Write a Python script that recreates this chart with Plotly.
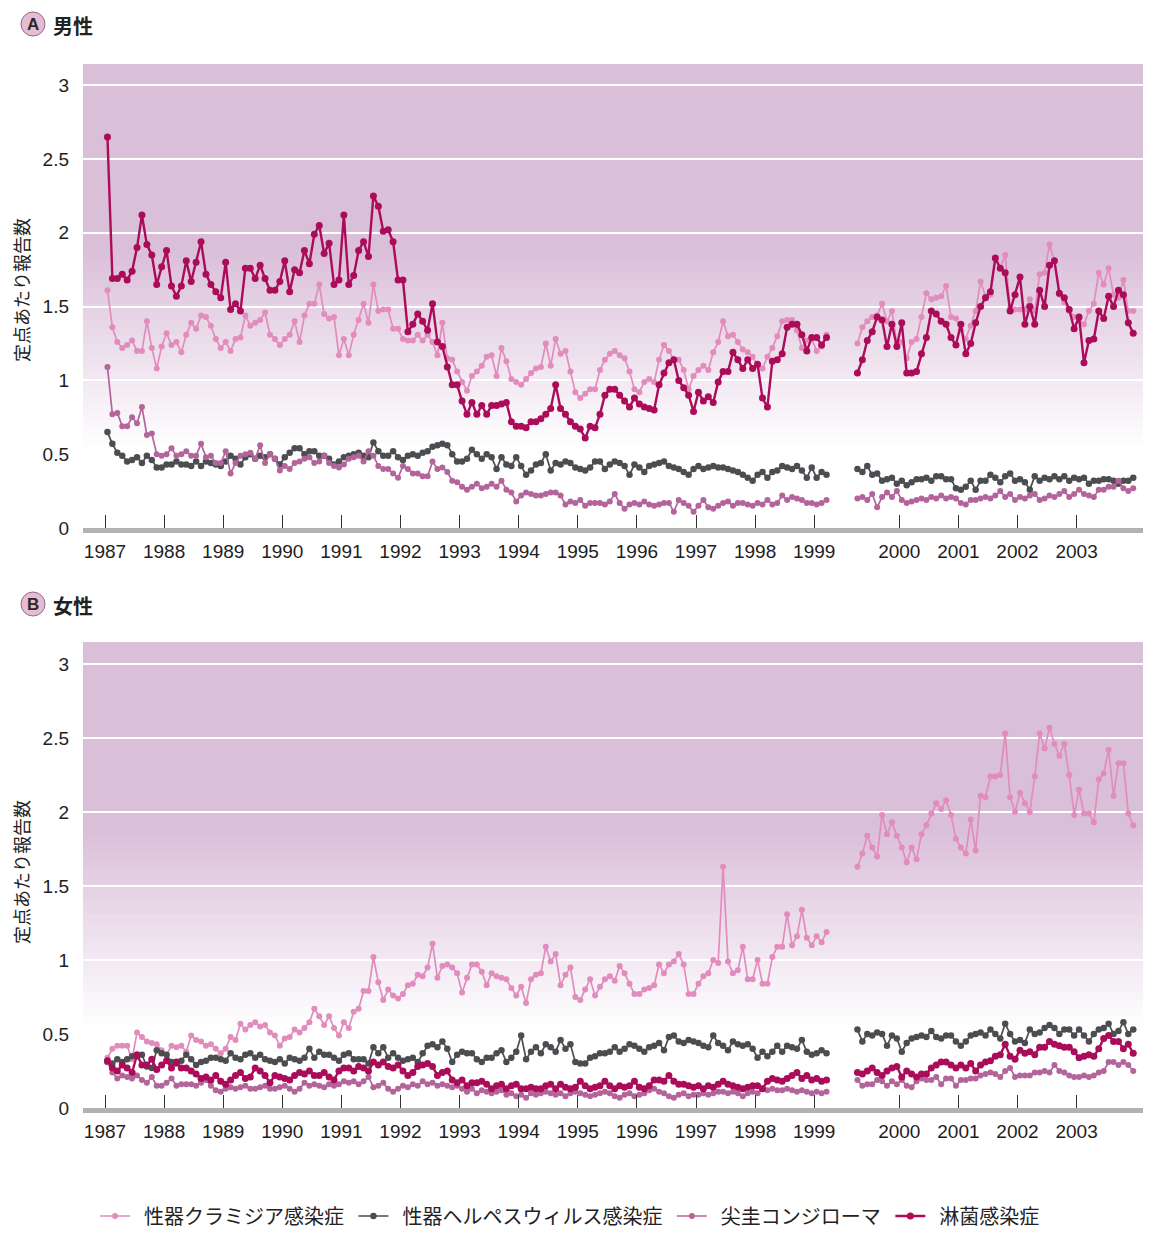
import plotly.graph_objects as go

# ---------------- DATA (monthly reports per sentinel site) ----------------
# pre-break: Jan 1987 .. Mar 1999 (147 months); post-break: Apr 1999 .. Dec 2003 (57 months)
series_names = ["性器クラミジア感染症", "性器ヘルペスウィルス感染症", "尖圭コンジローマ", "淋菌感染症"]
years_pre = list(range(1987, 2000))
years_post = [2000, 2001, 2002, 2003]

# ---- Panel A: male ----
male_chlamydia_pre = [
    1.61, 1.36, 1.26, 1.22, 1.24, 1.27, 1.20, 1.20, 1.40, 1.22, 1.08, 1.23,
    1.32, 1.24, 1.26, 1.19, 1.31, 1.39, 1.35, 1.44, 1.43, 1.37, 1.28, 1.22,
    1.26, 1.20, 1.28, 1.29, 1.44, 1.37, 1.39, 1.41, 1.46, 1.31, 1.28, 1.24,
    1.28, 1.31, 1.40, 1.26, 1.44, 1.52, 1.52, 1.65, 1.45, 1.42, 1.43, 1.17,
    1.28, 1.17, 1.31, 1.41, 1.52, 1.39, 1.65, 1.47, 1.48, 1.48, 1.35, 1.35,
    1.28, 1.27, 1.27, 1.31, 1.27, 1.31, 1.26, 1.17, 1.39, 1.15, 1.14, 1.06,
    0.99, 0.93, 1.03, 1.06, 1.10, 1.16, 1.17, 1.03, 1.22, 1.13, 1.01, 0.99,
    0.97, 1.01, 1.05, 1.08, 1.09, 1.25, 1.10, 1.28, 1.18, 1.20, 1.06, 0.92,
    0.88, 0.91, 0.94, 0.94, 1.07, 1.14, 1.18, 1.20, 1.17, 1.15, 1.06, 0.94,
    0.92, 0.99, 1.01, 0.99, 1.14, 1.24, 1.20, 1.14, 1.14, 1.07, 0.94, 1.03,
    1.07, 1.10, 1.07, 1.19, 1.26, 1.40, 1.30, 1.31, 1.26, 1.21, 1.19, 1.16,
    1.10, 1.08, 1.16, 1.22, 1.30, 1.40, 1.41, 1.41, 1.34, 1.22, 1.27, 1.28,
    1.20, 1.23, 1.31]
male_chlamydia_post = [
    1.25, 1.36, 1.40, 1.43, 1.44, 1.52, 1.40, 1.47, 1.25,
    1.26, 1.15, 1.26, 1.28, 1.43, 1.59, 1.55, 1.56, 1.57, 1.64, 1.43, 1.42,
    1.34, 1.28, 1.37, 1.47, 1.67, 1.57, 1.58, 1.82, 1.76, 1.85, 1.49, 1.48,
    1.48, 1.48, 1.55, 1.47, 1.72, 1.73, 1.92, 1.81, 1.58, 1.53, 1.47, 1.43,
    1.40, 1.38, 1.47, 1.52, 1.73, 1.65, 1.76, 1.58, 1.56, 1.68, 1.47, 1.47]

male_herpes_pre = [
    0.65, 0.57, 0.51, 0.49, 0.45, 0.46, 0.48, 0.44, 0.49, 0.46, 0.41, 0.41,
    0.43, 0.43, 0.45, 0.43, 0.43, 0.42, 0.45, 0.42, 0.45, 0.44, 0.43, 0.42,
    0.45, 0.49, 0.47, 0.43, 0.48, 0.50, 0.47, 0.49, 0.48, 0.50, 0.47, 0.43,
    0.48, 0.51, 0.54, 0.54, 0.50, 0.52, 0.52, 0.49, 0.49, 0.47, 0.43, 0.45,
    0.48, 0.49, 0.50, 0.51, 0.49, 0.48, 0.58, 0.52, 0.49, 0.49, 0.52, 0.48,
    0.46, 0.49, 0.50, 0.49, 0.51, 0.52, 0.55, 0.56, 0.57, 0.56, 0.50, 0.45,
    0.45, 0.47, 0.53, 0.50, 0.47, 0.50, 0.48, 0.40, 0.48, 0.43, 0.42, 0.48,
    0.42, 0.36, 0.39, 0.43, 0.44, 0.50, 0.39, 0.44, 0.43, 0.45, 0.44, 0.41,
    0.40, 0.39, 0.41, 0.45, 0.45, 0.40, 0.43, 0.45, 0.44, 0.42, 0.36, 0.43,
    0.41, 0.38, 0.42, 0.43, 0.44, 0.45, 0.42, 0.41, 0.40, 0.38, 0.36, 0.40,
    0.42, 0.40, 0.41, 0.42, 0.41, 0.41, 0.40, 0.39, 0.38, 0.36, 0.34, 0.32,
    0.36, 0.38, 0.34, 0.38, 0.39, 0.42, 0.41, 0.40, 0.42, 0.39, 0.34, 0.41,
    0.34, 0.38, 0.36]
male_herpes_post = [
    0.40, 0.38, 0.42, 0.36, 0.37, 0.32, 0.33, 0.34, 0.30,
    0.32, 0.29, 0.31, 0.33, 0.33, 0.34, 0.32, 0.35, 0.35, 0.33, 0.33, 0.27,
    0.26, 0.28, 0.32, 0.26, 0.32, 0.32, 0.36, 0.34, 0.31, 0.35, 0.37, 0.32,
    0.33, 0.31, 0.26, 0.35, 0.32, 0.34, 0.33, 0.35, 0.33, 0.35, 0.32, 0.34,
    0.33, 0.34, 0.30, 0.32, 0.32, 0.33, 0.33, 0.32, 0.30, 0.32, 0.32, 0.34]

male_condyloma_pre = [
    1.09, 0.77, 0.78, 0.69, 0.69, 0.75, 0.71, 0.82, 0.63, 0.64, 0.50, 0.49,
    0.50, 0.54, 0.49, 0.50, 0.52, 0.49, 0.49, 0.57, 0.48, 0.49, 0.44, 0.44,
    0.52, 0.37, 0.44, 0.49, 0.50, 0.51, 0.47, 0.56, 0.44, 0.50, 0.47, 0.39,
    0.42, 0.40, 0.44, 0.45, 0.47, 0.48, 0.44, 0.45, 0.49, 0.44, 0.42, 0.41,
    0.43, 0.47, 0.48, 0.49, 0.45, 0.52, 0.49, 0.42, 0.40, 0.40, 0.37, 0.34,
    0.42, 0.40, 0.37, 0.37, 0.35, 0.35, 0.45, 0.40, 0.41, 0.38, 0.32, 0.31,
    0.28, 0.26, 0.28, 0.30, 0.27, 0.28, 0.30, 0.28, 0.32, 0.26, 0.24, 0.18,
    0.22, 0.24, 0.23, 0.22, 0.22, 0.23, 0.24, 0.24, 0.22, 0.16, 0.18, 0.17,
    0.19, 0.15, 0.17, 0.17, 0.17, 0.16, 0.18, 0.23, 0.17, 0.13, 0.16, 0.17,
    0.16, 0.18, 0.16, 0.15, 0.16, 0.17, 0.17, 0.11, 0.19, 0.17, 0.15, 0.11,
    0.15, 0.19, 0.14, 0.13, 0.15, 0.17, 0.18, 0.15, 0.17, 0.17, 0.16, 0.15,
    0.17, 0.16, 0.19, 0.16, 0.17, 0.22, 0.19, 0.21, 0.20, 0.19, 0.17, 0.17,
    0.16, 0.17, 0.19]
male_condyloma_post = [
    0.20, 0.21, 0.19, 0.23, 0.14, 0.21, 0.24, 0.21, 0.25,
    0.19, 0.17, 0.18, 0.19, 0.20, 0.19, 0.21, 0.20, 0.22, 0.20, 0.21, 0.20,
    0.17, 0.16, 0.19, 0.19, 0.20, 0.21, 0.20, 0.22, 0.25, 0.21, 0.23, 0.19,
    0.21, 0.20, 0.22, 0.23, 0.19, 0.20, 0.22, 0.21, 0.23, 0.25, 0.21, 0.23,
    0.26, 0.23, 0.22, 0.21, 0.26, 0.26, 0.28, 0.28, 0.32, 0.27, 0.25, 0.27]

male_gonorrhea_pre = [
    2.65, 1.69, 1.69, 1.72, 1.68, 1.74, 1.90, 2.12, 1.92, 1.85, 1.65, 1.77,
    1.88, 1.64, 1.57, 1.64, 1.81, 1.67, 1.80, 1.94, 1.72, 1.65, 1.60, 1.56,
    1.80, 1.48, 1.52, 1.47, 1.76, 1.76, 1.69, 1.78, 1.69, 1.61, 1.61, 1.67,
    1.81, 1.60, 1.75, 1.73, 1.88, 1.79, 1.99, 2.05, 1.86, 1.93, 1.65, 1.68,
    2.12, 1.65, 1.71, 1.88, 1.94, 1.84, 2.25, 2.18, 2.01, 2.02, 1.94, 1.68,
    1.68, 1.33, 1.38, 1.45, 1.40, 1.34, 1.52, 1.26, 1.23, 1.09, 0.97, 0.97,
    0.86, 0.77, 0.85, 0.77, 0.83, 0.77, 0.83, 0.83, 0.84, 0.85, 0.72, 0.69,
    0.69, 0.68, 0.72, 0.72, 0.74, 0.77, 0.81, 0.97, 0.81, 0.77, 0.72, 0.69,
    0.67, 0.61, 0.69, 0.68, 0.77, 0.90, 0.94, 0.94, 0.90, 0.86, 0.82, 0.88,
    0.84, 0.82, 0.81, 0.80, 0.97, 1.05, 1.12, 1.14, 1.00, 0.95, 0.90, 0.79,
    0.92, 0.86, 0.89, 0.85, 0.99, 1.06, 1.06, 1.19, 1.14, 1.08, 1.14, 1.08,
    1.11, 0.88, 0.82, 1.13, 1.14, 1.18, 1.36, 1.38, 1.38, 1.31, 1.20, 1.29,
    1.29, 1.24, 1.29]
male_gonorrhea_post = [
    1.05, 1.14, 1.27, 1.33, 1.43, 1.41, 1.23, 1.38, 1.23,
    1.39, 1.05, 1.05, 1.06, 1.18, 1.29, 1.47, 1.45, 1.40, 1.38, 1.29, 1.24,
    1.38, 1.18, 1.25, 1.39, 1.50, 1.56, 1.60, 1.83, 1.76, 1.73, 1.47, 1.58,
    1.70, 1.38, 1.50, 1.38, 1.61, 1.50, 1.78, 1.81, 1.59, 1.56, 1.48, 1.35,
    1.43, 1.12, 1.27, 1.28, 1.47, 1.42, 1.57, 1.50, 1.61, 1.58, 1.39, 1.32]

# ---- Panel B: female ----
female_chlamydia_pre = [
    0.34, 0.40, 0.42, 0.42, 0.42, 0.33, 0.51, 0.48, 0.45, 0.44, 0.43, 0.39,
    0.36, 0.42, 0.41, 0.42, 0.38, 0.49, 0.46, 0.45, 0.42, 0.43, 0.40, 0.37,
    0.40, 0.48, 0.46, 0.57, 0.53, 0.56, 0.58, 0.55, 0.56, 0.51, 0.49, 0.42,
    0.47, 0.48, 0.53, 0.51, 0.54, 0.58, 0.67, 0.62, 0.56, 0.62, 0.54, 0.49,
    0.58, 0.54, 0.65, 0.67, 0.79, 0.79, 1.02, 0.85, 0.73, 0.80, 0.76, 0.74,
    0.77, 0.83, 0.84, 0.90, 0.89, 0.95, 1.11, 0.88, 0.96, 0.97, 0.95, 0.91,
    0.78, 0.88, 0.97, 0.97, 0.92, 0.83, 0.91, 0.89, 0.88, 0.87, 0.81, 0.76,
    0.82, 0.71, 0.87, 0.90, 0.91, 1.09, 0.99, 1.04, 0.83, 0.90, 0.95, 0.75,
    0.73, 0.80, 0.87, 0.76, 0.82, 0.87, 0.89, 0.86, 0.96, 0.91, 0.84, 0.77,
    0.77, 0.80, 0.81, 0.83, 0.97, 0.91, 0.97, 0.99, 1.04, 0.97, 0.77, 0.77,
    0.84, 0.89, 0.91, 1.00, 0.98, 1.63, 0.99, 0.91, 0.93, 1.09, 0.87, 0.87,
    1.00, 0.84, 0.84, 1.02, 1.09, 1.09, 1.31, 1.10, 1.16, 1.34, 1.15, 1.10,
    1.16, 1.12, 1.19]
female_chlamydia_post = [
    1.63, 1.72, 1.84, 1.76, 1.70, 1.98, 1.85, 1.93, 1.84,
    1.76, 1.66, 1.76, 1.68, 1.85, 1.91, 1.99, 2.06, 2.02, 2.08, 1.98, 1.82,
    1.76, 1.72, 1.95, 1.74, 2.11, 2.10, 2.24, 2.24, 2.25, 2.53, 2.10, 2.00,
    2.13, 2.06, 2.00, 2.24, 2.53, 2.43, 2.57, 2.46, 2.38, 2.46, 2.25, 1.98,
    2.15, 1.99, 1.99, 1.93, 2.22, 2.26, 2.42, 2.11, 2.33, 2.33, 1.99, 1.91]

female_herpes_pre = [
    0.31, 0.30, 0.33, 0.31, 0.33, 0.35, 0.35, 0.36, 0.28, 0.27, 0.39, 0.37,
    0.36, 0.31, 0.30, 0.32, 0.36, 0.33, 0.29, 0.31, 0.32, 0.34, 0.34, 0.33,
    0.32, 0.37, 0.34, 0.33, 0.36, 0.37, 0.34, 0.36, 0.33, 0.32, 0.31, 0.33,
    0.30, 0.34, 0.33, 0.32, 0.34, 0.40, 0.34, 0.38, 0.36, 0.36, 0.34, 0.32,
    0.36, 0.37, 0.33, 0.33, 0.33, 0.30, 0.41, 0.37, 0.41, 0.34, 0.37, 0.34,
    0.32, 0.33, 0.34, 0.31, 0.37, 0.42, 0.43, 0.41, 0.45, 0.40, 0.31, 0.36,
    0.38, 0.37, 0.37, 0.33, 0.31, 0.34, 0.34, 0.37, 0.39, 0.31, 0.34, 0.38,
    0.49, 0.33, 0.38, 0.41, 0.37, 0.43, 0.41, 0.38, 0.46, 0.40, 0.43, 0.31,
    0.30, 0.30, 0.34, 0.35, 0.37, 0.37, 0.38, 0.41, 0.38, 0.40, 0.43, 0.42,
    0.40, 0.38, 0.41, 0.42, 0.44, 0.39, 0.48, 0.49, 0.45, 0.44, 0.46, 0.45,
    0.44, 0.42, 0.41, 0.49, 0.44, 0.42, 0.39, 0.45, 0.43, 0.42, 0.43, 0.40,
    0.34, 0.38, 0.35, 0.38, 0.42, 0.38, 0.42, 0.41, 0.40, 0.46, 0.38, 0.36,
    0.37, 0.39, 0.37]
female_herpes_post = [
    0.53, 0.45, 0.50, 0.49, 0.51, 0.50, 0.42, 0.49, 0.47,
    0.38, 0.44, 0.47, 0.48, 0.49, 0.48, 0.52, 0.48, 0.47, 0.49, 0.49, 0.45,
    0.42, 0.45, 0.49, 0.50, 0.51, 0.49, 0.53, 0.50, 0.47, 0.57, 0.50, 0.45,
    0.46, 0.44, 0.53, 0.50, 0.51, 0.54, 0.56, 0.54, 0.50, 0.53, 0.53, 0.49,
    0.53, 0.49, 0.45, 0.50, 0.53, 0.54, 0.57, 0.50, 0.52, 0.58, 0.50, 0.53]

female_condyloma_pre = [
    0.31, 0.24, 0.20, 0.22, 0.21, 0.20, 0.22, 0.19, 0.17, 0.21, 0.15, 0.15,
    0.17, 0.20, 0.15, 0.16, 0.16, 0.16, 0.15, 0.17, 0.19, 0.15, 0.12, 0.11,
    0.13, 0.14, 0.13, 0.14, 0.15, 0.13, 0.13, 0.14, 0.15, 0.13, 0.13, 0.14,
    0.15, 0.13, 0.11, 0.13, 0.17, 0.15, 0.16, 0.15, 0.14, 0.16, 0.15, 0.16,
    0.18, 0.17, 0.18, 0.16, 0.18, 0.21, 0.14, 0.15, 0.17, 0.13, 0.11, 0.13,
    0.15, 0.14, 0.16, 0.15, 0.18, 0.16, 0.17, 0.15, 0.16, 0.15, 0.14, 0.15,
    0.13, 0.11, 0.13, 0.10, 0.12, 0.11, 0.10, 0.11, 0.12, 0.09, 0.10, 0.08,
    0.09, 0.07, 0.10, 0.09, 0.10, 0.11, 0.10, 0.09, 0.10, 0.08, 0.10, 0.11,
    0.10, 0.09, 0.08, 0.09, 0.10, 0.11, 0.10, 0.08, 0.07, 0.09, 0.10, 0.08,
    0.09, 0.10, 0.12, 0.13, 0.11, 0.10, 0.08, 0.07, 0.09, 0.10, 0.08, 0.09,
    0.09, 0.10, 0.09, 0.10, 0.11, 0.11, 0.10, 0.11, 0.10, 0.08, 0.10, 0.11,
    0.10, 0.13, 0.12, 0.13, 0.12, 0.12, 0.13, 0.12, 0.11, 0.12, 0.11, 0.10,
    0.11, 0.10, 0.11]
female_condyloma_post = [
    0.19, 0.15, 0.16, 0.16, 0.19, 0.18, 0.15, 0.18, 0.16,
    0.19, 0.15, 0.14, 0.18, 0.20, 0.19, 0.19, 0.21, 0.16, 0.20, 0.20, 0.15,
    0.19, 0.19, 0.20, 0.20, 0.22, 0.23, 0.24, 0.23, 0.21, 0.25, 0.27, 0.21,
    0.22, 0.22, 0.22, 0.24, 0.24, 0.25, 0.24, 0.29, 0.25, 0.24, 0.22, 0.21,
    0.21, 0.22, 0.21, 0.22, 0.24, 0.25, 0.31, 0.31, 0.29, 0.31, 0.29, 0.25]

female_gonorrhea_pre = [
    0.32, 0.27, 0.25, 0.29, 0.27, 0.24, 0.36, 0.29, 0.29, 0.33, 0.26, 0.29,
    0.32, 0.27, 0.31, 0.27, 0.27, 0.25, 0.23, 0.20, 0.21, 0.19, 0.22, 0.18,
    0.16, 0.19, 0.22, 0.24, 0.20, 0.21, 0.27, 0.25, 0.22, 0.17, 0.22, 0.21,
    0.20, 0.19, 0.22, 0.24, 0.23, 0.25, 0.22, 0.22, 0.24, 0.21, 0.19, 0.25,
    0.27, 0.27, 0.25, 0.28, 0.27, 0.25, 0.31, 0.29, 0.31, 0.28, 0.27, 0.29,
    0.25, 0.22, 0.24, 0.28, 0.29, 0.30, 0.28, 0.22, 0.24, 0.25, 0.19, 0.17,
    0.19, 0.15, 0.17, 0.17, 0.18, 0.16, 0.13, 0.15, 0.16, 0.13, 0.15, 0.16,
    0.13, 0.13, 0.14, 0.13, 0.13, 0.15, 0.16, 0.13, 0.16, 0.14, 0.13, 0.14,
    0.18, 0.15, 0.13, 0.14, 0.15, 0.18, 0.15, 0.13, 0.15, 0.14, 0.15, 0.18,
    0.14, 0.13, 0.15, 0.19, 0.19, 0.18, 0.22, 0.18, 0.16, 0.16, 0.15, 0.14,
    0.15, 0.13, 0.15, 0.14, 0.16, 0.18, 0.16, 0.15, 0.14, 0.13, 0.14, 0.15,
    0.15, 0.13, 0.18, 0.20, 0.19, 0.18, 0.20, 0.22, 0.24, 0.20, 0.22, 0.19,
    0.20, 0.18, 0.19]
female_gonorrhea_post = [
    0.24, 0.23, 0.25, 0.27, 0.24, 0.22, 0.25, 0.27, 0.28,
    0.21, 0.25, 0.23, 0.21, 0.23, 0.23, 0.27, 0.29, 0.31, 0.31, 0.29, 0.27,
    0.29, 0.27, 0.30, 0.25, 0.29, 0.31, 0.32, 0.35, 0.36, 0.43, 0.35, 0.33,
    0.39, 0.37, 0.38, 0.36, 0.41, 0.41, 0.45, 0.43, 0.42, 0.41, 0.41, 0.38,
    0.34, 0.35, 0.36, 0.35, 0.40, 0.47, 0.49, 0.45, 0.45, 0.40, 0.43, 0.37]

# ---------------- STYLE / LAYOUT ----------------
OFF = 8                      # page body margin of the rendered html
W, H = 1151 - 2 * OFF, 1239 - 2 * OFF
PL, PR = 83, 1151 - OFF      # plot area, screen pixels
PX_YEAR = 59.1
X0 = 1987 - (105 - PL) / PX_YEAR
X1 = X0 + (PR - PL) / PX_YEAR
SHIFT = 0.44  # horizontal break inserted after March 1999

colors = ["#e28cbe", "#4b4d50", "#b3649a", "#ab0c5a"]
msizes = [6, 6.5, 6, 7]
lwidths = [1.7, 1.7, 1.7, 2.4]
NB = "\u00a0"

def xs(pre, post):
    xp = [1987 + (i + 0.5) / 12 for i in range(len(pre))]
    xq = [1999 + (3 + i + 0.5) / 12 + SHIFT for i in range(len(post))]
    return xp + [None] + xq, list(pre) + [None] + list(post)

male = [(male_chlamydia_pre, male_chlamydia_post), (male_herpes_pre, male_herpes_post),
        (male_condyloma_pre, male_condyloma_post), (male_gonorrhea_pre, male_gonorrhea_post)]
female = [(female_chlamydia_pre, female_chlamydia_post), (female_herpes_pre, female_herpes_post),
          (female_condyloma_pre, female_condyloma_post), (female_gonorrhea_pre, female_gonorrhea_post)]

fig = go.Figure()
for k, (pre, post) in enumerate(male):
    x, y = xs(pre, post)
    fig.add_trace(go.Scatter(x=x, y=y, mode="lines+markers",
                             name=NB * 2 + series_names[k] + NB,
                             line=dict(color=colors[k], width=lwidths[k]),
                             marker=dict(color=colors[k], size=msizes[k]),
                             connectgaps=False, xaxis="x", yaxis="y", showlegend=True))
for k, (pre, post) in enumerate(female):
    x, y = xs(pre, post)
    fig.add_trace(go.Scatter(x=x, y=y, mode="lines+markers", name=series_names[k],
                             line=dict(color=colors[k], width=lwidths[k]),
                             marker=dict(color=colors[k], size=msizes[k]),
                             connectgaps=False, xaxis="x2", yaxis="y2", showlegend=False))

def py(sy):  # screen row -> paper fraction
    return (H - (sy - OFF)) / H

def pxx(sx):  # screen column -> paper fraction (paper spans plot area)
    return (sx - PL) / (PR - PL)

tickvals = years_pre + [yv + SHIFT for yv in years_post]
ticktext = [str(v) for v in years_pre + years_post]
tickfont = dict(family="Liberation Sans, Arial, sans-serif", size=19, color="#1e1e1e")

xaxis_common = dict(range=[X0, X1], tickvals=tickvals, ticktext=ticktext, ticks="inside",
                    ticklen=13, tickwidth=1.2, tickcolor="#333", showline=True,
                    linecolor="#b2b2b2", linewidth=5, showgrid=False, zeroline=False,
                    tickfont=tickfont, ticklabelstandoff=2, fixedrange=True)
yaxis_common = dict(tickvals=[0, 0.5, 1, 1.5, 2, 2.5, 3],
                    ticktext=["0", "0.5", "1", "1.5", "2", "2.5", "3"],
                    showgrid=True, gridcolor="white", gridwidth=2.2, zeroline=False,
                    showline=False, ticks="", tickfont=tickfont, ticklabelstandoff=13)

fig.update_layout(
    width=W, height=H, margin=dict(l=PL - OFF, r=0, t=0, b=0, autoexpand=False),
    paper_bgcolor="white", plot_bgcolor="rgba(0,0,0,0)",
    xaxis=dict(**xaxis_common, anchor="y", domain=[0, 1]),
    yaxis=dict(**yaxis_common, anchor="x", range=[0, 3.137], domain=[py(528), py(65)]),
    xaxis2=dict(**xaxis_common, anchor="y2", domain=[0, 1]),
    yaxis2=dict(**yaxis_common, anchor="x2", range=[0, 3.142], domain=[py(1108), py(643)]),
    legend=dict(orientation="h", x=pxx(95), xanchor="left", y=py(1216), yanchor="middle",
                font=dict(family="Noto Sans CJK JP", size=20, color="#222"),
                bgcolor="rgba(0,0,0,0)", itemwidth=30, tracegroupgap=0),
    showlegend=True,
)

# pink background fading to white (drawn below gridlines)
pink = (218, 191, 217)
def band_color(f, f_full=0.60, f_white=0.17):
    if f >= f_full:
        t = 1.0
    elif f <= f_white:
        t = 0.0
    else:
        t = (f - f_white) / (f_full - f_white)
    r = int(round(255 + (pink[0] - 255) * t))
    g = int(round(255 + (pink[1] - 255) * t))
    b = int(round(255 + (pink[2] - 255) * t))
    return f"rgb({r},{g},{b})"

shapes = []
N = 60
for xr, yr in (("x domain", "y domain"), ("x2 domain", "y2 domain")):
    for i in range(N):
        f0, f1 = i / N, (i + 1) / N
        c = band_color((f0 + f1) / 2)
        if c == "rgb(255,255,255)":
            continue
        shapes.append(dict(type="rect", xref=xr, yref=yr, x0=0, x1=1, y0=f0, y1=f1 + 0.002,
                           fillcolor=c, line=dict(width=0), layer="below"))

# panel badges
for cy in (24, 604):
    shapes.append(dict(type="circle", xref="paper", yref="paper",
                       x0=pxx(21), x1=pxx(45), y0=py(cy + 12), y1=py(cy - 12),
                       fillcolor="#e4bcd6", line=dict(color="#8f6a85", width=1)))
fig.update_layout(shapes=shapes)

annotations = []
for cy, letter, label in ((25, "A", "男性"), (605, "B", "女性")):
    annotations.append(dict(x=pxx(33), y=py(cy - 1), xref="paper", yref="paper", text=f"<b>{letter}</b>",
                            showarrow=False, xanchor="center", yanchor="middle",
                            font=dict(family="Liberation Sans, Arial", size=17, color="#2a2a2a")))
    annotations.append(dict(x=pxx(51), y=py(cy), xref="paper", yref="paper", text=f"<b>{label}</b>",
                            showarrow=False, xanchor="left", yanchor="middle",
                            font=dict(family="Noto Sans CJK JP", size=20, color="#222")))
for cy in (290, 872):
    annotations.append(dict(x=pxx(21), y=py(cy), xref="paper", yref="paper", text="定点あたり報告数",
                            showarrow=False, xanchor="center", yanchor="middle", textangle=-90,
                            font=dict(family="Noto Sans CJK JP", size=18, color="#222")))
fig.update_layout(annotations=annotations)

fig.write_html("out.html")
